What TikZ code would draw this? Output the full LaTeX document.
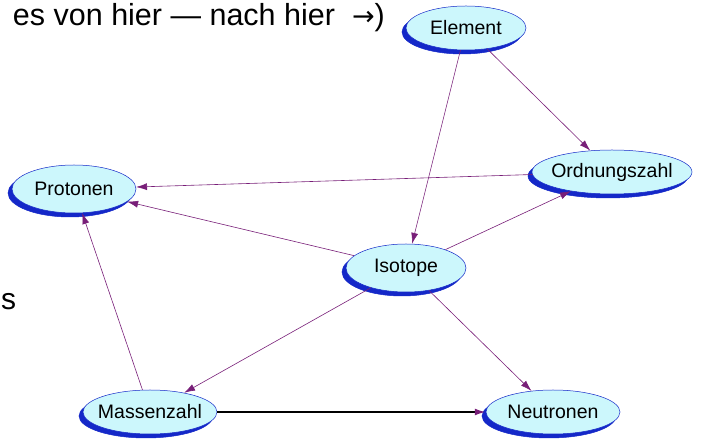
\documentclass[tikz,border=0pt]{standalone}
\usepackage{fontspec}
\setmainfont{Liberation Sans}
\newfontfamily\pfeilschrift{DejaVu Sans}
\usetikzlibrary{shapes.geometric,shadows,arrows.meta}
\definecolor{begriff}{RGB}{204,247,252}
\definecolor{rand}{RGB}{20,40,200}
\definecolor{pfeil}{RGB}{120,30,120}
\newcommand{\schmal}[1]{\makebox[0pt]{#1}}

\begin{document}
\begin{tikzpicture}[x=1pt, y=-1pt,
	begriff/.style={ellipse, draw=rand, line width=0.5pt, fill=begriff, inner sep=0pt,
		font=\fontsize{19.5}{22}\selectfont,
		copy shadow={shadow xshift=-4pt, shadow yshift=-4pt, fill=rand, draw=rand}},
	kante/.style={draw=pfeil, line width=0.6pt, -{Latex[length=11pt,width=7pt]}}]
				\useasboundingbox (0,0) rectangle (716,443);
				\node[anchor=base east, inner sep=0pt, font=\fontsize{30.5}{34}\selectfont] (T)at(385, 26) {es von hier — nach hier \ {\pfeilschrift\fontsize{27}{30}\selectfont →})};
				\node[anchor=base west, inner sep=0pt, font=\fontsize{30}{34}\selectfont] (S)at(1, 310) {s};
				\node[begriff, minimum width=120pt, minimum height=44pt] (E)at(466, 28) {\schmal{Element}};
				\node[begriff, minimum width=160pt, minimum height=44pt] (O)at(612, 172) {\schmal{Ordnungszahl}};
				\node[begriff, minimum width=124pt, minimum height=48pt] (P)at(74, 189) {\schmal{Protonen}};
				\node[begriff, minimum width=120pt, minimum height=48pt] (I)at(406, 268) {\schmal{Isotope}};
				\node[begriff, minimum width=134pt, minimum height=44pt] (M)at(150, 412) {\schmal{Massenzahl}};
				\node[begriff, minimum width=134pt, minimum height=44pt] (N)at(553, 412) {\schmal{Neutronen}};
				\draw[kante] (E) -- (O);
				\draw[kante] (E) -- (I);
				\draw[kante] (O) -- (P);
				\draw[kante] (I) -- (P);
				\draw[kante] (I) -- (O);
				\draw[kante] (I) -- (M);
				\draw[kante] (I) -- (N);
				\draw[kante] (M) -- (P);
				\draw[line width=1.8pt, -{Latex[length=11pt,width=7pt,color=pfeil]}] (M) -- (N);
			\end{tikzpicture}
\end{document}
